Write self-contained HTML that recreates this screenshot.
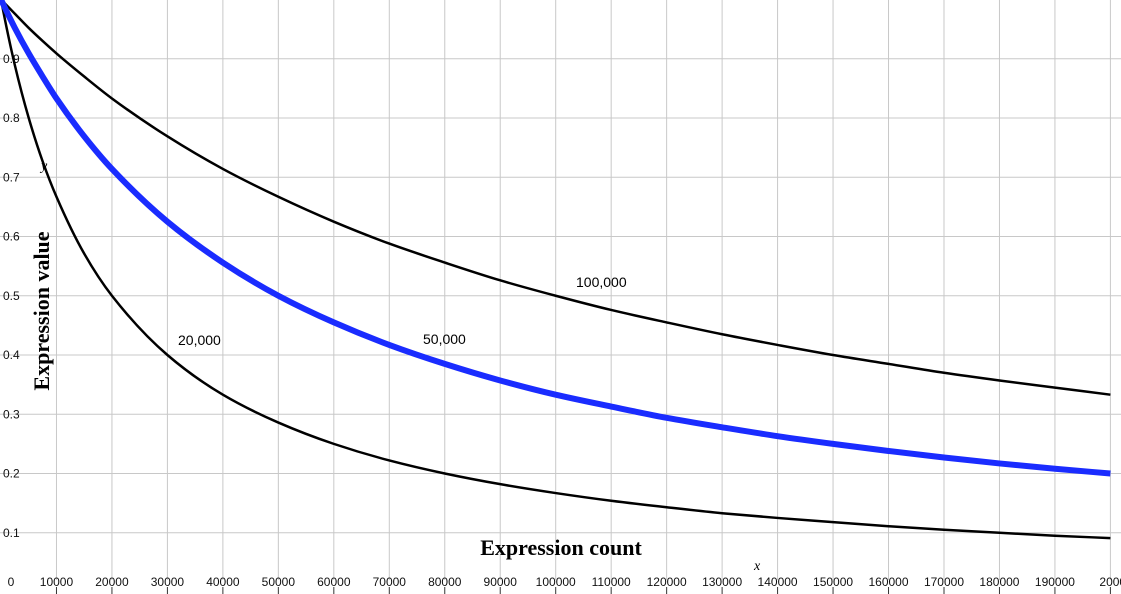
<!DOCTYPE html>
<html><head><meta charset="utf-8"><style>
html,body{margin:0;padding:0;background:#fff;}
svg{display:block;}
</style></head><body>
<svg id="chart" width="1121" height="594" viewBox="0 0 1121 594" xmlns="http://www.w3.org/2000/svg">
<g id="grid"></g>
<g id="ticks"></g>
<g id="series"></g>
<text x="178" y="345" font-family="Liberation Sans, sans-serif" font-size="14">20,000</text>
<text x="423" y="344" font-family="Liberation Sans, sans-serif" font-size="14">50,000</text>
<text x="576" y="287" font-family="Liberation Sans, sans-serif" font-size="14">100,000</text>
<text x="561" y="555" text-anchor="middle" font-family="Liberation Serif, serif" font-weight="bold" font-size="22">Expression count</text>
<text transform="translate(49,311) rotate(-90)" text-anchor="middle" font-family="Liberation Serif, serif" font-weight="bold" font-size="22">Expression value</text>
<text x="41" y="170" font-family="Liberation Serif, serif" font-style="italic" font-size="14">y</text>
<text x="754" y="570" font-family="Liberation Serif, serif" font-style="italic" font-size="14">x</text>
</svg>
<script>
const xTicks = [0,10000,20000,30000,40000,50000,60000,70000,80000,90000,100000,110000,120000,130000,140000,150000,160000,170000,180000,190000,200000];
const yTicks = [0.1,0.2,0.3,0.4,0.5,0.6,0.7,0.8,0.9];
const xValues = [0,2500,5000,7500,10000,15000,20000,30000,40000,50000,60000,70000,80000,90000,100000,110000,120000,130000,140000,150000,160000,170000,180000,190000,200000];
const series20k = [1,0.889,0.8,0.727,0.667,0.571,0.5,0.4,0.333,0.286,0.25,0.222,0.2,0.182,0.167,0.154,0.143,0.133,0.125,0.118,0.111,0.105,0.1,0.095,0.091];
const series50k = [1,0.952,0.909,0.870,0.833,0.769,0.714,0.625,0.556,0.5,0.455,0.417,0.385,0.357,0.333,0.313,0.294,0.278,0.263,0.25,0.238,0.227,0.217,0.208,0.2];
const series100k = [1,0.976,0.952,0.930,0.909,0.870,0.833,0.769,0.714,0.667,0.625,0.588,0.556,0.526,0.5,0.476,0.455,0.435,0.417,0.4,0.385,0.37,0.357,0.345,0.333];

const NS='http://www.w3.org/2000/svg';
function xs(v){return 1+v*0.005547;}
function ys(v){return 592-v*592.5;}
function mk(tag,parent,attrs){const e=document.createElementNS(NS,tag);for(const k in attrs)e.setAttribute(k,attrs[k]);parent.appendChild(e);return e;}
const grid=document.getElementById('grid');
const ticks=document.getElementById('ticks');
xTicks.forEach(t=>{
  if(t===0)return;
  const l=mk('line',grid,{x1:xs(t),x2:xs(t),y1:0,y2:580,stroke:'#c8c8c8','stroke-width':1});
  
  
  const tk=mk('line',ticks,{x1:xs(t),x2:xs(t),y1:587,y2:594,stroke:'#333','stroke-width':1});
  
  
});
yTicks.forEach(t=>{
  const l=mk('line',grid,{x1:0,x2:1121,y1:ys(t),y2:ys(t),stroke:'#c8c8c8','stroke-width':1});
  
  
  const tx=mk('text',ticks,{x:3,y:ys(t)+4,'font-family':'Liberation Sans, sans-serif','font-size':12,fill:'#111'});
  tx.textContent=t.toFixed(1);
  
  
});
xTicks.forEach(t=>{
  const tx=mk('text',ticks,{x:t===0?11:xs(t),y:586,'text-anchor':t===200000?'start':'middle','font-family':'Liberation Sans, sans-serif','font-size':12,fill:'#111'});
  if(t===200000)tx.setAttribute('x',xs(t)-11);
  tx.textContent=String(t);
  
  
});
function pathFor(vals){
  const p=xValues.map((x,i)=>[xs(x),ys(vals[i])]);
  const n=p.length, h=[], s=[], m=[];
  for(let i=0;i<n-1;i++){h[i]=p[i+1][0]-p[i][0];s[i]=(p[i+1][1]-p[i][1])/h[i];}
  m[0]=s[0]*1.5-s[1]*0.5; m[n-1]=s[n-2];
  for(let i=1;i<n-1;i++){
    if(s[i-1]*s[i]<=0){m[i]=0;continue;}
    const w1=2*h[i]+h[i-1], w2=h[i]+2*h[i-1];
    m[i]=(w1+w2)/(w1/s[i-1]+w2/s[i]);
  }
  let d='M'+p[0][0]+','+p[0][1];
  for(let i=0;i<n-1;i++){
    d+=' C'+(p[i][0]+h[i]/3)+','+(p[i][1]+m[i]*h[i]/3)+' '+(p[i+1][0]-h[i]/3)+','+(p[i+1][1]-m[i+1]*h[i]/3)+' '+p[i+1][0]+','+p[i+1][1];
  }
  return d;
}
const sg=document.getElementById('series');
const a=mk('path',sg,{d:pathFor(series100k),fill:'none',stroke:'#000','stroke-width':2.5});


const b=mk('path',sg,{d:pathFor(series20k),fill:'none',stroke:'#000','stroke-width':2.5});


const c=mk('path',sg,{d:pathFor(series50k),fill:'none',stroke:'#1a2cff','stroke-width':6});


</script>
</body></html>
